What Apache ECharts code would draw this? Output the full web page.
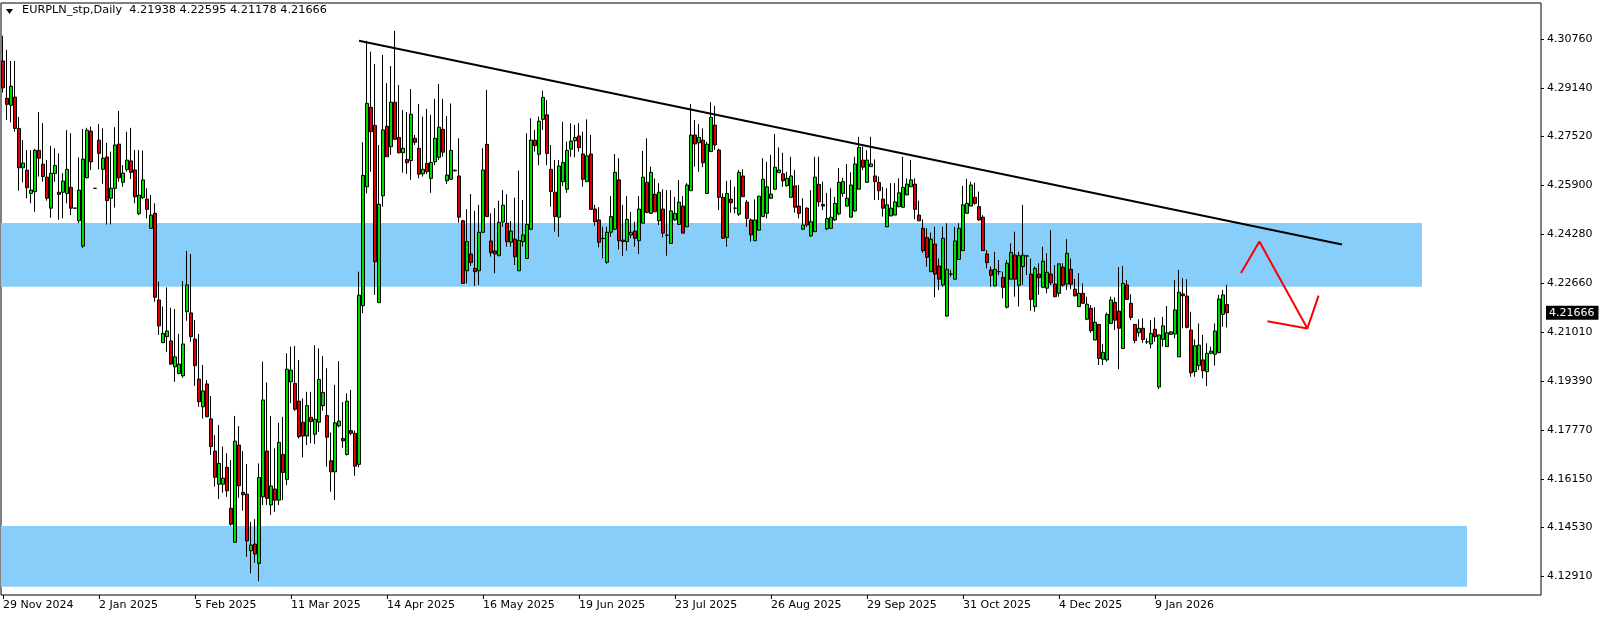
<!DOCTYPE html>
<html><head><meta charset="utf-8">
<script src="https://cdn.jsdelivr.net/npm/echarts@6/dist/echarts.min.js"></script>
<style>html,body{margin:0;padding:0;background:#fff;}#c{width:1604px;height:619px;}</style>
</head><body><div id="c"></div>
<script>
// ---- data ----
const symbolTitle = 'EURPLN_stp,Daily';
const startDate = '2024-11-29';
const skipDays = ['2025-12-25', '2026-01-01'];
const tickLabels = ['29 Nov 2024','2 Jan 2025','5 Feb 2025','11 Mar 2025','14 Apr 2025','16 May 2025','19 Jun 2025','23 Jul 2025','26 Aug 2025','29 Sep 2025','31 Oct 2025','4 Dec 2025','9 Jan 2026'];
const priceTicks = [4.30760,4.29140,4.27520,4.25900,4.24280,4.22660,4.21010,4.19390,4.17770,4.16150,4.14530,4.12910];

const opens = [4.3003,4.2879,4.2856,4.2883,4.2779,4.2648,4.2640,4.2563,4.2569,4.2706,4.2660,4.2617,4.2514,4.2629,4.2567,4.2567,4.2563,4.2583,4.2514,4.2472,
4.2388,4.2615,4.2770,4.2580,4.2740,4.2643,4.2684,4.2547,4.2580,4.2727,4.2600,4.2642,4.2671,4.2641,4.2496,4.2549,4.2544,4.2447,4.2497,4.2209,
4.2067,4.2087,4.2073,4.1987,4.1965,4.1957,4.2170,4.2166,4.2079,4.1946,4.1854,4.1930,4.1814,4.1707,4.1597,4.1597,4.1653,4.1517,4.1404,4.1727,
4.1570,4.1564,4.1376,4.1398,4.1334,4.1555,4.1707,4.1528,4.1581,4.1544,4.1696,4.1613,4.1937,4.1932,4.1873,4.1803,4.1757,4.1819,4.1763,4.1803,
4.1858,4.1825,4.1675,4.1638,4.1791,4.1749,4.1696,4.1775,4.1766,4.1663,4.2190,4.2585,4.2849,4.2789,4.2200,4.2555,4.2786,4.2718,4.2866,4.2749,
4.2698,4.2676,4.2672,4.2746,4.2713,4.2628,4.2663,4.2613,4.2668,4.2683,4.2776,4.2605,4.2610,4.2640,4.2621,4.2472,4.2306,4.2362,4.2314,4.2306,
4.2434,4.2726,4.2405,4.2372,4.2356,4.2468,4.2464,4.2401,4.2411,4.2306,4.2403,4.2347,4.2444,4.2740,4.2693,4.2809,4.2824,4.2643,4.2567,4.2484,
4.2602,4.2577,4.2710,4.2738,4.2754,4.2694,4.2602,4.2694,4.2511,4.2475,4.2414,4.2334,4.2434,4.2444,4.2608,4.2408,4.2403,4.2425,4.2438,4.2406,
4.2464,4.2600,4.2497,4.2560,4.2472,4.2511,4.2424,4.2397,4.2475,4.2460,4.2521,4.2452,4.2572,4.2757,4.2731,4.2740,4.2563,4.2702,4.2790,4.2707,
4.2550,4.2417,4.2544,4.2514,4.2494,4.2621,4.2534,4.2475,4.2406,4.2441,4.2486,4.2497,4.2547,4.2577,4.2632,4.2628,4.2589,4.2550,4.2588,4.2521,
4.2444,4.2514,4.2422,4.2436,4.2593,4.2526,4.2445,4.2447,4.2475,4.2495,4.2563,4.2521,4.2484,4.2505,4.2577,4.2674,4.2600,4.2652,4.2621,4.2599,
4.2544,4.2452,4.2488,4.2491,4.2519,4.2517,4.2558,4.2585,4.2594,4.2491,4.2447,4.2417,4.2303,4.2395,4.2322,4.2259,4.2156,4.2295,4.2278,4.2344,
4.2373,4.2497,4.2521,4.2550,4.2519,4.2484,4.2362,4.2309,4.2256,4.2303,4.2284,4.2185,4.2278,4.2358,4.2258,4.2320,4.2355,4.2295,4.2187,4.2295,
4.2251,4.2248,4.2295,4.2262,4.2231,4.2318,4.2262,4.2311,4.2245,4.2187,4.2231,4.2145,4.2181,4.2076,4.2128,4.2012,4.2010,4.2131,4.2201,4.2172,
4.2048,4.2259,4.2198,4.2128,4.2100,4.2115,4.2070,4.2063,4.2112,4.1920,4.2078,4.2054,4.2095,4.2096,4.2020,4.2229,4.2222,4.2109,4.1971,4.1991,
4.2010,4.1971,4.2032,4.2029,4.2034,4.2161,4.21938];

const highs = [4.3087,4.3040,4.3003,4.3003,4.2817,4.2740,4.2707,4.2707,4.2711,4.2833,4.2796,4.2674,4.2721,4.2713,4.2696,4.2630,4.2773,4.2763,4.2515,4.2683,
4.2777,4.2781,4.2785,4.2581,4.2794,4.2779,4.2731,4.2702,4.2783,4.2837,4.2657,4.2768,4.2781,4.2707,4.2707,4.2705,4.2580,4.2558,4.2530,4.2270,
4.2187,4.2251,4.2183,4.2179,4.2096,4.2272,4.2372,4.2362,4.2142,4.2096,4.1993,4.1943,4.1890,4.1760,4.1794,4.1722,4.1700,4.1677,4.1824,4.1790,
4.1707,4.1664,4.1472,4.1481,4.1666,4.2004,4.1935,4.1824,4.1716,4.1801,4.1821,4.2032,4.2054,4.2056,4.2010,4.1882,4.1904,4.1904,4.2059,4.2048,
4.2023,4.1982,4.1769,4.1927,4.2006,4.1870,4.1899,4.1910,4.1775,4.2303,4.2733,4.3070,4.3034,4.2993,4.2724,4.3023,4.2929,4.2986,4.3103,4.2923,
4.2840,4.2833,4.2910,4.2757,4.2860,4.2818,4.2844,4.2824,4.2877,4.2927,4.2877,4.2820,4.2862,4.2642,4.2746,4.2475,4.2511,4.2561,4.2505,4.2525,
4.2713,4.2907,4.2497,4.2514,4.2539,4.2574,4.2560,4.2471,4.2549,4.2639,4.2541,4.2763,4.2813,4.2774,4.2818,4.2904,4.2873,4.2724,4.2674,4.2674,
4.2801,4.2735,4.2796,4.2790,4.2796,4.2768,4.2809,4.2757,4.2525,4.2517,4.2452,4.2452,4.2554,4.2694,4.2680,4.2525,4.2554,4.2502,4.2469,4.2554,
4.2704,4.2746,4.2652,4.2613,4.2597,4.2577,4.2574,4.2574,4.2552,4.2608,4.2554,4.2597,4.2860,4.2807,4.2794,4.2779,4.2735,4.2866,4.2854,4.2712,
4.2563,4.2605,4.2608,4.2585,4.2641,4.2643,4.2541,4.2480,4.2543,4.2554,4.2680,4.2668,4.2691,4.2760,4.2716,4.2698,4.2635,4.2685,4.2641,4.2591,
4.2547,4.2517,4.2574,4.2685,4.2685,4.2602,4.2565,4.2580,4.2552,4.2647,4.2615,4.2661,4.2633,4.2685,4.2751,4.2718,4.2707,4.2751,4.2676,4.2619,
4.2585,4.2580,4.2597,4.2597,4.2613,4.2685,4.2613,4.2674,4.2613,4.2539,4.2477,4.2447,4.2433,4.2452,4.2347,4.2452,4.2464,4.2309,4.2452,4.2464,
4.2588,4.2611,4.2602,4.2599,4.2569,4.2491,4.2375,4.2320,4.2369,4.2342,4.2303,4.2342,4.2397,4.2436,4.2369,4.2525,4.2358,4.2347,4.2320,4.2331,
4.2386,4.2364,4.2441,4.2325,4.2328,4.2331,4.2411,4.2347,4.2279,4.2298,4.2264,4.2220,4.2192,4.2185,4.2129,4.2063,4.2167,4.2220,4.2218,4.2318,
4.2322,4.2275,4.2228,4.2129,4.2145,4.2148,4.2082,4.2142,4.2151,4.2093,4.2153,4.2189,4.2106,4.2275,4.2309,4.2281,4.2278,4.2170,4.2078,4.2131,
4.2093,4.2065,4.2054,4.2131,4.2226,4.2242,4.22595];

const lows = [4.2898,4.2807,4.2799,4.2768,4.2572,4.2600,4.2547,4.2530,4.2502,4.2619,4.2602,4.2539,4.2482,4.2602,4.2475,4.2480,4.2530,4.2491,4.2513,4.2464,
4.2382,4.2613,4.2641,4.2579,4.2643,4.2595,4.2460,4.2460,4.2516,4.2602,4.2585,4.2635,4.2611,4.2530,4.2491,4.2544,4.2480,4.2445,4.2203,4.2093,
4.2066,4.2037,4.1993,4.1937,4.1962,4.1951,4.2140,4.2070,4.1924,4.1854,4.1815,4.1821,4.1694,4.1589,4.1548,4.1569,4.1555,4.1459,4.1404,4.1552,
4.1509,4.1356,4.1301,4.1336,4.1275,4.1528,4.1528,4.1495,4.1505,4.1528,4.1544,4.1594,4.1866,4.1841,4.1749,4.1686,4.1727,4.1733,4.1730,4.1771,
4.1841,4.1655,4.1572,4.1544,4.1786,4.1718,4.1692,4.1760,4.1625,4.1653,4.2165,4.2563,4.2635,4.2226,4.2200,4.2519,4.2685,4.2691,4.2740,4.2696,
4.2632,4.2628,4.2608,4.2724,4.2613,4.2619,4.2627,4.2565,4.2657,4.2674,4.2685,4.2594,4.2608,4.2636,4.2466,4.2264,4.2264,4.2322,4.2256,4.2259,
4.2431,4.2486,4.2353,4.2298,4.2355,4.2452,4.2386,4.2386,4.2325,4.2306,4.2386,4.2347,4.2441,4.2702,4.2657,4.2774,4.2657,4.2519,4.2436,4.2419,
4.2588,4.2565,4.2685,4.2683,4.2702,4.2585,4.2602,4.2508,4.2456,4.2384,4.2347,4.2329,4.2419,4.2441,4.2377,4.2355,4.2373,4.2414,4.2386,4.2362,
4.2464,4.2497,4.2495,4.2502,4.2458,4.2417,4.2356,4.2395,4.2472,4.2458,4.2431,4.2452,4.2572,4.2652,4.2635,4.2650,4.2563,4.2702,4.2707,4.2508,
4.2414,4.2386,4.2499,4.2497,4.2488,4.2552,4.2452,4.2403,4.2406,4.2439,4.2486,4.2480,4.2544,4.2574,4.2632,4.2585,4.2585,4.2550,4.2499,4.2480,
4.2441,4.2452,4.2419,4.2436,4.2519,4.2508,4.2441,4.2446,4.2472,4.2491,4.2552,4.2519,4.2484,4.2502,4.2577,4.2641,4.2599,4.2652,4.2541,4.2541,
4.2486,4.2452,4.2488,4.2491,4.2517,4.2517,4.2558,4.2585,4.2477,4.2472,4.2366,4.2320,4.2303,4.2218,4.2242,4.2253,4.2153,4.2286,4.2278,4.2344,
4.2373,4.2495,4.2521,4.2525,4.2472,4.2373,4.2314,4.2253,4.2255,4.2292,4.2215,4.2181,4.2278,4.2220,4.2187,4.2259,4.2292,4.2173,4.2170,4.2226,
4.2250,4.2231,4.2259,4.2218,4.2220,4.2253,4.2242,4.2245,4.2220,4.2187,4.2196,4.2142,4.2100,4.2076,4.1993,4.1993,4.2004,4.2129,4.2109,4.1979,
4.2048,4.2211,4.2142,4.2065,4.2087,4.2067,4.2063,4.2048,4.2070,4.1913,4.2054,4.2054,4.2093,4.2082,4.2020,4.2115,4.2115,4.1954,4.1954,4.1976,
4.1949,4.1923,4.2029,4.1991,4.2032,4.2120,4.21178];

const closes = [4.2914,4.2859,4.2919,4.2779,4.2648,4.2664,4.2582,4.2574,4.2706,4.2680,4.2619,4.2547,4.2630,4.2656,4.2560,4.2604,4.2643,4.2514,4.2514,4.2574,
4.2677,4.2773,4.2668,4.2580,4.2696,4.2680,4.2539,4.2580,4.2724,4.2615,4.2631,4.2674,4.2633,4.2552,4.2557,4.2608,4.2510,4.2491,4.2218,4.2123,
4.2098,4.2106,4.1996,4.2020,4.1996,4.2063,4.2259,4.2087,4.1991,4.1871,4.1907,4.1821,4.1722,4.1620,4.1666,4.1617,4.1575,4.1464,4.1740,4.1592,
4.1562,4.1409,4.1395,4.1365,4.1619,4.1877,4.1550,4.1591,4.1544,4.1736,4.1636,4.1979,4.1976,4.1846,4.1755,4.1757,4.1858,4.1805,4.1813,4.1945,
4.1902,4.1753,4.1638,4.1801,4.1807,4.1741,4.1873,4.1766,4.1657,4.2225,4.2623,4.2862,4.2768,4.2336,4.2527,4.2774,4.2685,4.2866,4.2743,4.2698,
4.2713,4.2665,4.2826,4.2733,4.2627,4.2643,4.2635,4.2666,4.2746,4.2783,4.2700,4.2624,4.2706,4.2638,4.2484,4.2264,4.2403,4.2333,4.2303,4.2434,
4.2641,4.2486,4.2366,4.2362,4.2467,4.2524,4.2403,4.2438,4.2353,4.2407,4.2425,4.2460,4.2740,4.2722,4.2803,4.2882,4.2696,4.2569,4.2486,4.2654,
4.2666,4.2706,4.2737,4.2749,4.2715,4.2610,4.2688,4.2510,4.2469,4.2401,4.2413,4.2434,4.2486,4.2633,4.2406,4.2403,4.2477,4.2434,4.2414,4.2511,
4.2617,4.2500,4.2633,4.2502,4.2567,4.2431,4.2424,4.2505,4.2497,4.2534,4.2431,4.2591,4.2757,4.2727,4.2749,4.2665,4.2727,4.2816,4.2724,4.2550,
4.2414,4.2563,4.2532,4.2514,4.2633,4.2552,4.2480,4.2425,4.2475,4.2554,4.2610,4.2585,4.2561,4.2650,4.2641,4.2605,4.2613,4.2621,4.2517,4.2497,
4.2458,4.2458,4.2469,4.2617,4.2535,4.2521,4.2480,4.2484,4.2530,4.2600,4.2602,4.2547,4.2591,4.2661,4.2716,4.2650,4.2674,4.2661,4.2602,4.2572,
4.2514,4.2525,4.2514,4.2535,4.2565,4.2583,4.2594,4.2608,4.2510,4.2472,4.2373,4.2351,4.2411,4.2295,4.2278,4.2414,4.2311,4.2295,4.2405,4.2447,
4.2525,4.2530,4.2591,4.2530,4.2475,4.2373,4.2333,4.2291,4.2311,4.2303,4.2251,4.2331,4.2367,4.2278,4.2356,4.2358,4.2355,4.2211,4.2314,4.2283,
4.2338,4.2301,4.2266,4.2220,4.2329,4.2258,4.2364,4.2261,4.2223,4.2231,4.2198,4.2195,4.2107,4.2135,4.2015,4.2035,4.2161,4.2209,4.2142,4.2115,
4.2264,4.2211,4.2151,4.2074,4.2115,4.2078,4.2070,4.2098,4.2087,4.2093,4.2123,4.2100,4.2103,4.2176,4.2235,4.2223,4.2118,4.1967,4.2057,4.2059,
4.1974,4.2032,4.2039,4.2106,4.2212,4.2226,4.21666];

// support / resistance zones [top, bottom] and where they end (bar position)
const upperZone = [4.24648, 4.22531];
const lowerZone = [4.14581, 4.12565];
const zoneEnds = [354.75, 366.0];
// hand-drawn annotations: [bar position, price]
const trendLine = [[89.0, 4.30704], [334.75, 4.23933]];
const arrowPath = [[309.5, 4.22983], [314.1, 4.24036], [326.1, 4.21146]];
const arrowHead = [[316.1, 4.21385], [326.1, 4.21146], [328.9, 4.22235]];

// ---- layout ----
const totalSlots = 385;
const yMin = 4.12289, yMax = 4.31956;
const FONT = '"DejaVu Sans", Verdana, sans-serif';

const categories = [];
{
  const d = new Date(startDate + 'T00:00:00Z');
  while (categories.length < totalSlots) {
    const wd = d.getUTCDay();
    const iso = d.toISOString().slice(0, 10);
    if (wd !== 0 && wd !== 6 && skipDays.indexOf(iso) < 0) categories.push(iso);
    d.setUTCDate(d.getUTCDate() + 1);
  }
}
const candles = opens.map((o, i) => {
  const c = closes[i];
  return [o, c, Math.min(lows[i], o, c), Math.max(highs[i], o, c)];
});
const n = opens.length;
const lastO = opens[n-1], lastH = highs[n-1], lastL = lows[n-1], lastC = closes[n-1];
const showTick = (i) => i % 24 === 0 && (i / 24) < tickLabels.length;

const baseGraphic = [
  {id: 'tri', type: 'polygon', z: 100, shape: {points: [[6, 9], [13, 9], [9.5, 14]]}, style: {fill: '#000'}},
  {id: 'title', type: 'text', z: 100, x: 22, y: 5, style: {
    text: symbolTitle + '  ' + lastO.toFixed(5) + ' ' + lastH.toFixed(5) + ' ' + lastL.toFixed(5) + ' ' + lastC.toFixed(5),
    font: '11.3px ' + FONT, fill: '#000'}}
];

const chart = echarts.init(document.getElementById('c'), null, {renderer: 'canvas'});
chart.setOption({
  animation: false,
  backgroundColor: '#fff',
  textStyle: {fontFamily: FONT},
  grid: {left: 1, top: 3, width: 1540, height: 592, show: true, borderColor: '#000', borderWidth: 1, backgroundColor: '#fff'},
  xAxis: [{
    type: 'category', data: categories, boundaryGap: true,
    axisLine: {show: false, onZero: false},
    axisTick: {show: true, interval: showTick, alignWithLabel: true, length: 4, lineStyle: {color: '#000', width: 1}},
    axisLabel: {show: true, interval: showTick, hideOverlap: false,
      formatter: (v, i) => tickLabels[i / 24] || '', align: 'left', margin: 5,
      color: '#000', fontFamily: FONT, fontSize: 11},
    splitLine: {show: false}
  }, {
    type: 'value', min: -0.5, max: totalSlots - 0.5, show: false,
    axisLine: {onZero: false}
  }],
  yAxis: [{
    type: 'value', position: 'right', min: yMin, max: yMax,
    axisLine: {show: false, onZero: false},
    axisTick: {show: true, customValues: priceTicks, length: 3, lineStyle: {color: '#000'}},
    axisLabel: {show: true, customValues: priceTicks, formatter: v => v.toFixed(5), margin: 6,
      color: '#000', fontFamily: FONT, fontSize: 11},
    splitLine: {show: false}
  }],
  series: [
    {
      type: 'line', xAxisIndex: 1, yAxisIndex: 0, data: [], silent: true, z: 1,
      markArea: {
        silent: true,
        itemStyle: {color: '#87cefa', opacity: 1},
        data: [
          [{coord: [-0.5, upperZone[0]]}, {coord: [zoneEnds[0], upperZone[1]]}],
          [{coord: [-0.5, lowerZone[0]]}, {coord: [zoneEnds[1], lowerZone[1]]}]
        ]
      }
    },
    {
      type: 'candlestick', xAxisIndex: 0, yAxisIndex: 0, data: candles, z: 3,
      barWidth: 3,
      itemStyle: {color: '#00dc00', color0: '#dc0000', borderColor: '#000', borderColor0: '#000', borderColorDoji: '#000', borderWidth: 1}
    },
    {
      type: 'line', xAxisIndex: 1, yAxisIndex: 0, data: trendLine, z: 5, silent: true,
      showSymbol: false, symbol: 'none', lineStyle: {color: '#000', width: 2}
    },
    {
      type: 'line', xAxisIndex: 1, yAxisIndex: 0, data: arrowPath, z: 5, silent: true,
      showSymbol: false, symbol: 'none', lineStyle: {color: '#ff0000', width: 2}
    },
    {
      type: 'line', xAxisIndex: 1, yAxisIndex: 0, data: arrowHead, z: 5, silent: true,
      showSymbol: false, symbol: 'none', lineStyle: {color: '#ff0000', width: 2}
    }
  ],
  graphic: baseGraphic
});

// current price tag on the price axis, positioned through the y scale
const priceY = chart.convertToPixel({yAxisIndex: 0}, lastC);
chart.setOption({
  graphic: baseGraphic.concat([{
    id: 'lastPrice', type: 'text', z: 100, x: 1546, y: priceY,
    style: {text: lastC.toFixed(5), font: '11px ' + FONT, fill: '#fff',
      backgroundColor: '#000', padding: [2, 4, 1, 3], verticalAlign: 'middle', align: 'left'}
  }])
});
</script>
</body></html>
